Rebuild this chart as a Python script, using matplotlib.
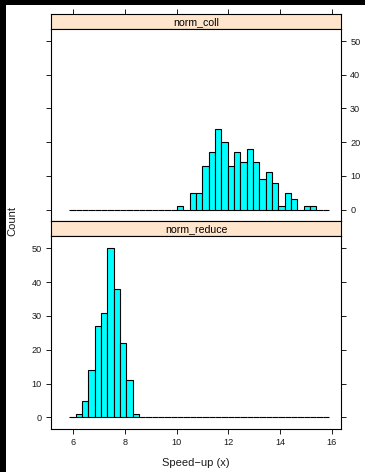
import matplotlib
matplotlib.use("Agg")
import matplotlib.pyplot as plt
import numpy as np
from matplotlib.patches import Rectangle

# ---- data ----
bin_start = 5.845
bin_width = 0.245
n_bins = 41
panels = ["norm_coll", "norm_reduce"]
# counts for non-empty stretch, with index of first bin
coll_first_bin = 17
coll_counts = [1, 0, 5, 5, 13, 17, 24, 20, 13, 17, 14, 18, 14, 9, 11, 8, 1, 5, 3, 0, 1, 1]
reduce_first_bin = 1
reduce_counts = [1, 5, 14, 27, 31, 50, 38, 22, 11, 1]
x_ticks = [6, 8, 10, 12, 14, 16]
y_ticks = [0, 10, 20, 30, 40, 50]
x_label = "Speed\u2212up (x)"
y_label = "Count"

def full_counts(first, counts):
    c = np.zeros(n_bins)
    c[first:first + len(counts)] = counts
    return c

edges = bin_start + bin_width * np.arange(n_bins)

W, H = 365, 472
fig = plt.figure(figsize=(W / 100, H / 100), dpi=100, facecolor="black")
fig.patches.append(Rectangle((6 / W, 0), 1, (H - 5) / H, transform=fig.transFigure,
                             facecolor="white", edgecolor="none", zorder=-10))

def rect(l, t, r, b):
    return [l / W, 1 - b / H, (r - l) / W, (b - t) / H]

xlim = (5.14, 16.36)
ylim = (-3.4, 53.6)
font = "Liberation Sans"
tick_fs = 6.6
tcol = "#1a1a1a"

def style_strip(ax, label):
    ax.set_facecolor("#FFE5CC")
    ax.set_xlim(*xlim)
    ax.set_ylim(0, 1)
    ax.set_yticks([])
    ax.text(0.5, 0.45, label, transform=ax.transAxes, ha="center", va="center",
            fontsize=7.6, family=font, color="black")
    for s in ax.spines.values():
        s.set_linewidth(0.8)
        s.set_color("black")

def style_panel(ax, counts, ylab_side, xlabels):
    ax.bar(edges, counts, width=bin_width, align="edge", color="#00FFFF",
           edgecolor="black", linewidth=0.8)
    ax.set_xlim(*xlim)
    ax.set_ylim(*ylim)
    ax.set_yticks(y_ticks)
    ax.tick_params(axis="y", left=True, right=True, direction="out", length=3.6,
                   width=0.7, colors=tcol, labelsize=tick_fs,
                   labelleft=(ylab_side == "left"), labelright=(ylab_side == "right"), pad=3)
    ax.set_xticks(x_ticks)
    if xlabels:
        ax.tick_params(axis="x", bottom=True, top=False, direction="out", length=3.6,
                       width=0.7, colors=tcol, labelsize=tick_fs, pad=3)
    else:
        ax.tick_params(axis="x", bottom=False, top=False, labelbottom=False)
    for lab in ax.get_xticklabels() + ax.get_yticklabels():
        lab.set_family(font)
    for s in ax.spines.values():
        s.set_linewidth(0.8)
        s.set_color("black")

# upper panel
s1 = fig.add_axes(rect(51, 14, 341, 29))
style_strip(s1, panels[0])
s1.set_xticks(x_ticks)
s1.tick_params(axis="x", bottom=False, top=True, labelbottom=False, labeltop=False,
               direction="out", length=3.6, width=0.7, colors=tcol)
a1 = fig.add_axes(rect(51, 29, 341, 221))
style_panel(a1, full_counts(coll_first_bin, coll_counts), "right", False)

# lower panel
s2 = fig.add_axes(rect(51, 221, 341, 236))
style_strip(s2, panels[1])
s2.set_xticks([])
a2 = fig.add_axes(rect(51, 236, 341, 429))
style_panel(a2, full_counts(reduce_first_bin, reduce_counts), "left", True)

fig.text(196 / W, 1 - 463 / H, x_label, ha="center", va="center",
         fontsize=8, family=font, color=tcol)
fig.text(12 / W, 1 - 221 / H, y_label, ha="center", va="center", rotation=90,
         fontsize=8, family=font, color=tcol)

fig.savefig("out.png", dpi=100, facecolor=fig.get_facecolor())
